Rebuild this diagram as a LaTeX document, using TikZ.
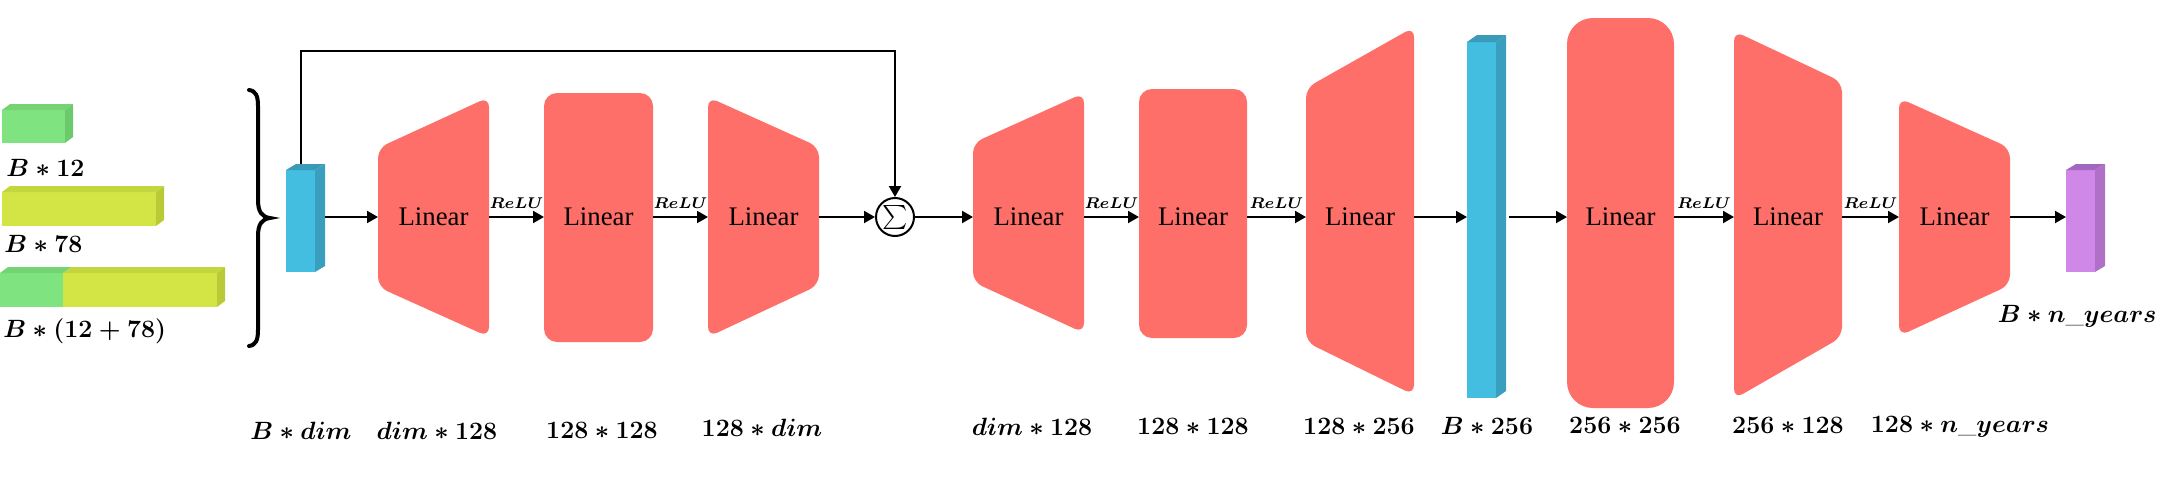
\RequirePackage{fix-cm}
\documentclass[tikz,border=0pt]{standalone}
\usepackage{amsmath}
\usepackage{fontspec}
\newfontfamily\timesf{Liberation Serif}
\usetikzlibrary{arrows.meta}
\definecolor{lin}{HTML}{FF6F69}
\definecolor{bluefront}{HTML}{44BEE0}
\definecolor{bluetop}{HTML}{3A9BB8}
\definecolor{blueside}{HTML}{3A9EBF}
\definecolor{purfront}{HTML}{D088E8}
\definecolor{purtop}{HTML}{A268C0}
\definecolor{purside}{HTML}{B070C8}
\definecolor{greenfront}{HTML}{7FE47F}
\definecolor{greentop}{HTML}{74D474}
\definecolor{greenside}{HTML}{6CC96C}
\definecolor{yelfront}{HTML}{D3E544}
\definecolor{yeltop}{HTML}{C4D63E}
\definecolor{yelside}{HTML}{B9CA38}
\newcommand\boxcube[7]{%
  \fill[#7front] (#1,#2) rectangle (#3,#4);
  \fill[#7top] (#1,#2) -- ++(#5,-#6) -- ({#3+#5},{#2-#6}) -- (#3,#2) -- cycle;
  \fill[#7side] (#3,#2) -- ++(#5,-#6) -- ({#3+#5},{#4-#6}) -- (#3,#4) -- cycle;}
\newcommand\lintrap[6]{%
  \fill[lin, rounded corners=5pt] (#1,#2) -- (#4,#5) -- (#4,#6) -- (#1,#3) -- cycle;}
\begin{document}
\begin{tikzpicture}[x=0.5pt,y=-0.5pt,
  frame/.style={inner sep=0pt, outer sep=0pt},
  lintext/.style={frame, font=\timesf\fontsize{13.4}{16}\selectfont},
  lab/.style={inner sep=0pt, anchor=base, font=\fontsize{12.5}{15}\selectfont},
  relu/.style={above=4pt, inner sep=0pt, font=\fontsize{7.8}{9}\selectfont},
  arr/.style={line width=1pt, -{Triangle[length=5.5pt,width=6pt]}}]
\useasboundingbox (0,0) rectangle (2160,493);

% ---- layer shapes
\lintrap{378}{148}{287}{489}{97}{337}
\fill[lin, rounded corners=6.5pt] (544,93) rectangle (653,342);
\lintrap{708}{97}{337}{819}{147}{285}
\lintrap{973}{143}{282}{1084}{93}{333}
\fill[lin, rounded corners=6.5pt] (1139,89) rectangle (1247,338);
\lintrap{1306}{88}{342}{1414}{27}{395}
\fill[lin, rounded corners=13pt] (1567,18) rectangle (1674,408);
\lintrap{1734}{31}{399}{1842}{82}{337}
\lintrap{1899}{98}{336}{2010}{148}{285}

% ---- layer nodes
\node[lintext, minimum width=55.5pt] (L1) at (433.5,217) {Linear};
\node[lintext, minimum width=54.5pt] (L2) at (598.5,217) {Linear};
\node[lintext, minimum width=55.5pt] (L3) at (763.5,217) {Linear};
\node[lintext, minimum width=55.5pt] (L4) at (1028.5,217) {Linear};
\node[lintext, minimum width=54pt] (L5) at (1193,217) {Linear};
\node[lintext, minimum width=54pt] (L6) at (1360,217) {Linear};
\node[lintext, minimum width=53.5pt] (L7) at (1620.5,217) {Linear};
\node[lintext, minimum width=54pt] (L8) at (1788,217) {Linear};
\node[lintext, minimum width=55.5pt] (L9) at (1954.5,217) {Linear};

% ---- tensors
\node[frame, minimum width=14.5pt, minimum height=51pt] (in) at (300.5,221) {};
\node[frame, minimum width=14.5pt, minimum height=178pt] (bl) at (1481.5,220) {};
\node[frame, minimum width=14.5pt, minimum height=51pt] (pu) at (2080.5,221) {};
\node[circle, draw, line width=1pt, minimum size=19pt, inner sep=0pt] (sum) at (895,217)
  {\fontsize{11.5}{13}\selectfont$\sum$};

% ---- skip connection
\coordinate (skiptop) at (895,51);
\draw[arr] (in.north) |- (skiptop) -- (sum.north);

\boxcube{286}{170}{315}{272}{10}{6}{blue}
\boxcube{1467}{42}{1496}{398}{10}{7}{blue}
\boxcube{2066}{170}{2095}{272}{10}{6}{pur}

% ---- input bars
\boxcube{2}{110}{65}{143}{8}{6}{green}
\boxcube{2}{192}{156}{226}{8}{6}{yel}
\boxcube{63}{273}{217}{307}{8}{6}{yel}
\fill[greenfront] (0,273) rectangle (63,307);
\fill[greentop] (0,273) -- (8,267) -- (71,267) -- (63,273) -- cycle;

\node[lab, anchor=base west] (t12) at (6,176) {$\boldsymbol{B*12}$};
\node[lab, anchor=base west] (t78) at (4,252) {$\boldsymbol{B*78}$};
\node[lab, anchor=base west] (t90) at (3,337) {$\boldsymbol{B*(12+78)}$};

% ---- brace
\draw[line width=2pt, line cap=round]
  (249,90) .. controls (256,91) and (258,96) .. (258,106) -- (258,200)
  .. controls (258,212) and (262,217) .. (270,218)
  .. controls (262,219) and (258,224) .. (258,236) -- (258,330)
  .. controls (258,340) and (256,345) .. (249,346);

% ---- connectors
\coordinate (inout) at ([xshift=5pt]in.east);
\coordinate (blout) at ([xshift=6.5pt]bl.east);
\draw[arr] (inout |- L1.west) -- (L1.west);
\draw[arr] (L1.east) -- node[relu] {$\boldsymbol{ReLU}$} (L2.west);
\draw[arr] (L2.east) -- node[relu] {$\boldsymbol{ReLU}$} (L3.west);
\draw[arr] (L3.east) -- (sum.west);
\draw[arr] (sum.east) -- (L4.west);
\draw[arr] (L4.east) -- node[relu] {$\boldsymbol{ReLU}$} (L5.west);
\draw[arr] (L5.east) -- node[relu] {$\boldsymbol{ReLU}$} (L6.west);
\draw[arr] (L6.east) -- (L6.east -| bl.west);
\draw[arr] (blout |- L7.west) -- (L7.west);
\draw[arr] (L7.east) -- node[relu] {$\boldsymbol{ReLU}$} (L8.west);
\draw[arr] (L8.east) -- node[relu] {$\boldsymbol{ReLU}$} (L9.west);
\draw[arr] (L9.east) -- (L9.east -| pu.west);

% ---- dimension labels
\node[lab] (d0) at (301,439) {$\boldsymbol{B*dim}$};
\node[lab] (d1) at (437,439) {$\boldsymbol{dim*128}$};
\node[lab] (d2) at (602,438) {$\boldsymbol{128*128}$};
\node[lab] (d3) at (762,436) {$\boldsymbol{128*dim}$};
\node[lab] (d4) at (1032,435) {$\boldsymbol{dim*128}$};
\node[lab] (d5) at (1193,434) {$\boldsymbol{128*128}$};
\node[lab] (d6) at (1359,434) {$\boldsymbol{128*256}$};
\node[lab] (d7) at (1487,434) {$\boldsymbol{B*256}$};
\node[lab] (d8) at (1625,433) {$\boldsymbol{256*256}$};
\node[lab] (d9) at (1788,433) {$\boldsymbol{256*128}$};
\node[lab] (d10) at (1960,432) {$\boldsymbol{128*n\_years}$};
\node[lab, anchor=base east] (dout) at (2157,322) {$\boldsymbol{B*n\_years}$};
\end{tikzpicture}
\end{document}
